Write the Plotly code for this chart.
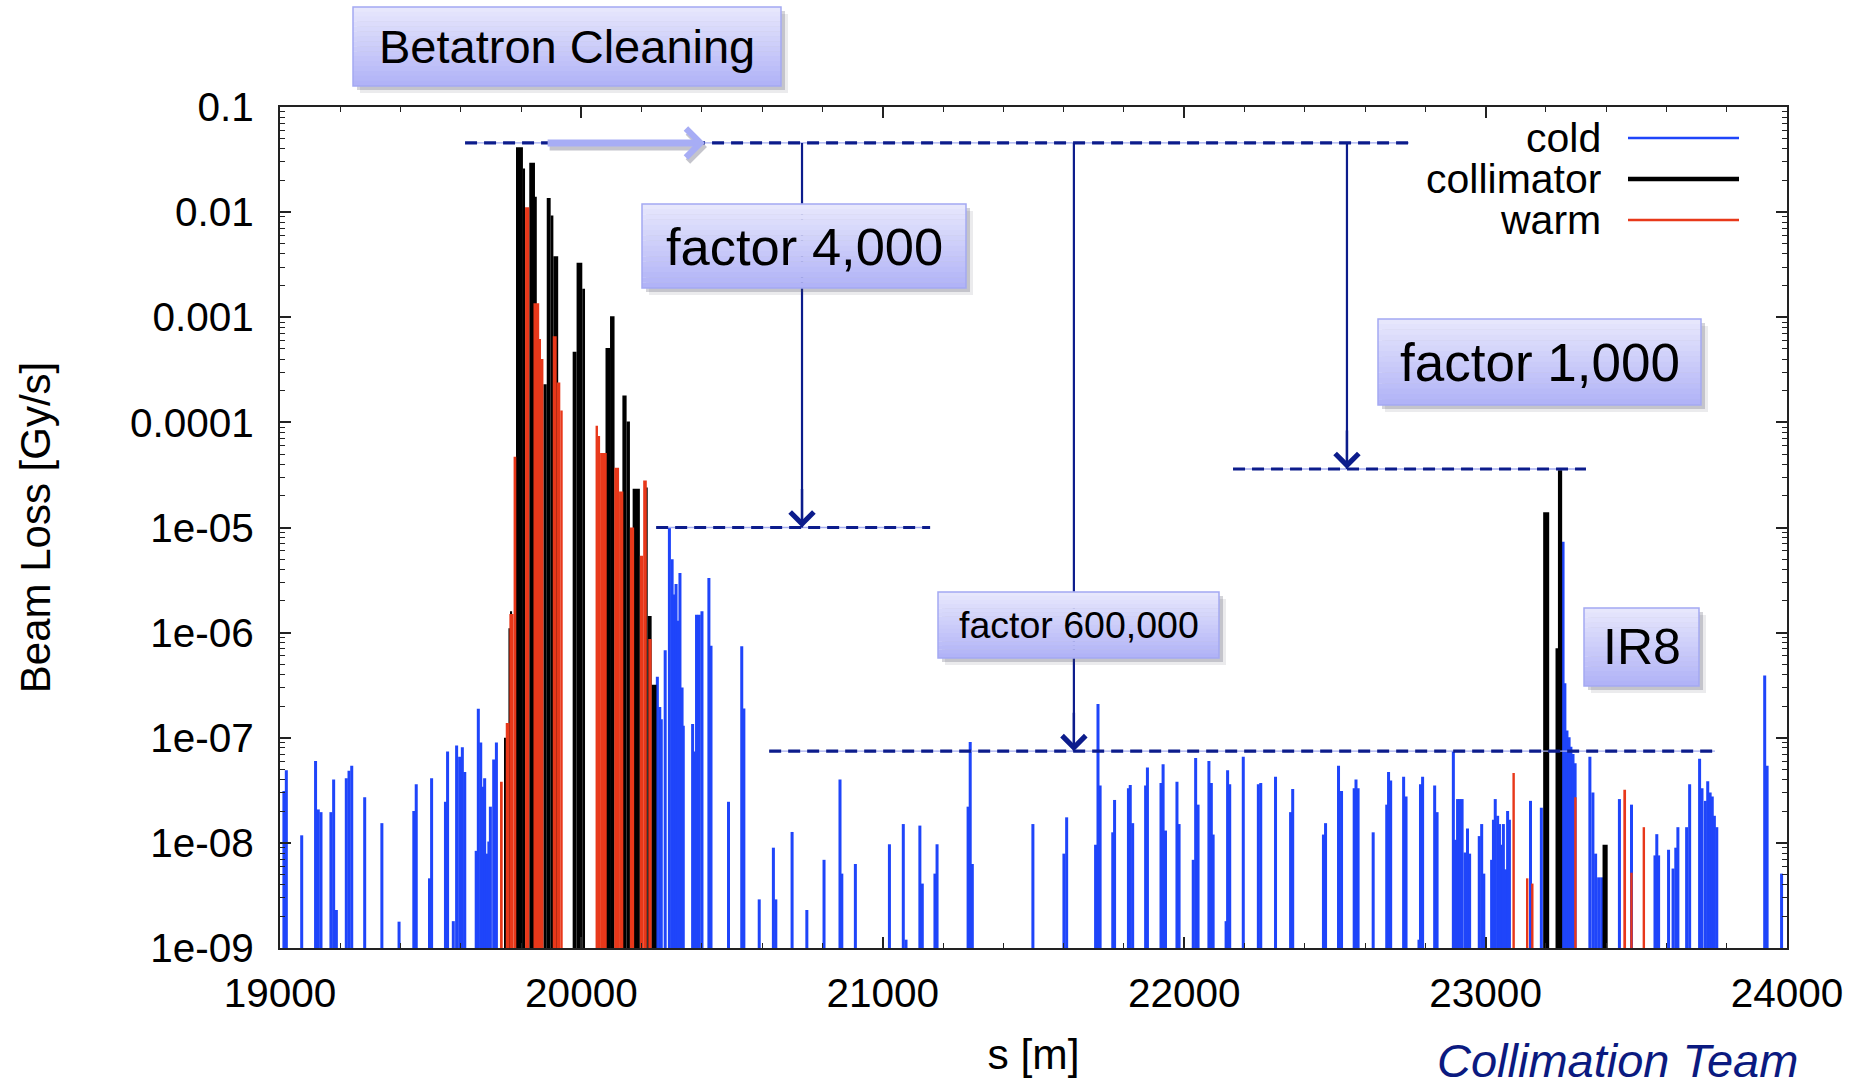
import numpy as np
import plotly.graph_objects as go

# ---------------- beam loss data (s in m, loss in Gy/s) ----------------
# cold elements: single readings
cold_s = [
    19013, 19021, 19072, 19118, 19127, 19136, 19169, 19178, 19187, 19220,
    19229, 19238, 19281, 19338, 19395, 19444, 19452, 19496, 19503, 19549,
    19556, 19575, 19586, 19596, 19605, 19613, 19651, 19658, 19666, 19672,
    19679, 19687, 19693, 19698, 19709, 19718,
    20252, 20260, 20265, 20278, 20292, 20301, 20308, 20314, 20321, 20327,
    20334, 20338, 20369, 20376, 20382, 20391, 20400, 20423, 20430, 20488,
    20532, 20539, 20590, 20637, 20645, 20699, 20748, 20805, 20858, 20864,
    20909, 21022, 21068, 21077, 21123, 21131, 21173, 21180, 21283, 21290,
    21297, 21498, 21601, 21610, 21706, 21714, 21721, 21763, 21769, 21815,
    21821, 21829, 21872, 21878, 21923, 21930, 21938, 21976, 21983, 22030,
    22038, 22046, 22082, 22090, 22096, 22139, 22144, 22151, 22196, 22246,
    22254, 22303, 22353, 22360, 22462, 22469, 22512, 22522, 22564, 22570,
    22577, 22627, 22672, 22678, 22685, 22728, 22736, 22779, 22784, 22791,
    22831, 22839, 22893, 22900, 22907, 22914, 22922, 22932, 22940, 22947,
    22979, 22987, 22994, 23020, 23026, 23032, 23040, 23046, 23053, 23059,
    23066, 23073, 23079, 23149, 23185, 23257, 23263, 23270, 23277, 23283,
    23290, 23297, 23346, 23356, 23365, 23375, 23385, 23444, 23484, 23562,
    23568, 23574, 23607, 23622, 23631, 23638, 23667, 23677, 23710, 23718,
    23729, 23737, 23745, 23752, 23759, 23767, 23926, 23934, 23982,
]
cold_loss = [
    3.1e-8, 4.9e-8, 1.17e-8, 6.0e-8, 2.07e-8, 1.95e-8, 1.95e-8, 4.0e-8, 2.2e-9, 4.1e-8,
    4.85e-8, 5.4e-8, 2.7e-8, 1.53e-8, 1.68e-9, 2.0e-8, 3.6e-8, 4.5e-9, 4.1e-8, 2.45e-8,
    7.4e-8, 1.7e-9, 8.45e-8, 6.6e-8, 8.1e-8, 4.7e-8, 8.3e-9, 1.89e-7, 9.0e-8, 3.4e-8,
    4.1e-8, 7.8e-9, 1.02e-8, 2.2e-8, 6.2e-8, 9.0e-8,
    3.8e-7, 1.96e-7, 1.5e-7, 6.8e-7, 1.0e-5, 5.0e-6, 2.3e-6, 2.9e-6, 1.3e-6, 3.7e-6,
    3.0e-7, 1.3e-7, 1.35e-7, 7.4e-8, 1.48e-6, 1.48e-6, 1.6e-6, 3.3e-6, 7.5e-7, 2.45e-8,
    7.4e-7, 1.9e-7, 2.8e-9, 8.9e-9, 2.8e-9, 1.26e-8, 2.2e-9, 6.8e-9, 4.0e-8, 5.0e-9,
    6.2e-9, 9.6e-9, 1.5e-8, 1.1e-9, 1.45e-8, 4.0e-9, 5.0e-9, 9.6e-9, 2.2e-8, 9.1e-8,
    6.2e-9, 1.5e-8, 7.8e-9, 1.74e-8, 9.5e-9, 2.09e-7, 3.5e-8, 1.25e-8, 2.55e-8, 3.3e-8,
    3.55e-8, 1.53e-8, 3.5e-8, 5.2e-8, 3.7e-8, 5.6e-8, 1.3e-8, 3.8e-8, 1.5e-8, 6.8e-9,
    6.4e-8, 2.3e-8, 6.0e-8, 3.7e-8, 1.19e-8, 1.7e-9, 4.9e-8, 3.6e-8, 6.6e-8, 3.6e-8,
    3.7e-8, 4.25e-8, 1.95e-8, 3.25e-8, 1.19e-8, 1.53e-8, 5.4e-8, 3.1e-8, 3.3e-8, 4.0e-8,
    3.3e-8, 1.25e-8, 2.3e-8, 4.7e-8, 3.9e-8, 4.25e-8, 2.75e-8, 1.1e-9, 3.6e-8, 4.25e-8,
    3.5e-8, 1.95e-8, 7.46e-8, 1.06e-8, 2.6e-8, 2.6e-8, 2.6e-8, 8.0e-9, 1.36e-8, 7.8e-9,
    1.15e-8, 1.5e-8, 5.0e-9, 6.8e-9, 1.65e-8, 2.6e-8, 1.8e-8, 1.5e-8, 9.5e-9, 1.5e-8,
    5.5e-9, 2.0e-8, 1.65e-8, 2.5e-8, 2.15e-8, 7.3e-6, 3.3e-7, 1.17e-7, 1.01e-7, 8.2e-8,
    7.0e-8, 5.7e-8, 6.6e-8, 3.0e-8, 7.8e-9, 4.6e-9, 4.6e-9, 2.6e-8, 2.3e-8, 7.5e-9,
    1.2e-8, 7.5e-9, 8.5e-9, 5.6e-9, 8.9e-9, 1.4e-8, 1.4e-8, 3.6e-8, 6.3e-8, 3.3e-8,
    2.5e-8, 3.85e-8, 3.0e-8, 2.75e-8, 1.8e-8, 1.4e-8, 3.9e-7, 5.4e-8, 5.0e-9,
]

# collimators: element start / end and loss
coll_from = [19744, 19758, 19765, 19783, 19806, 19827, 19846, 19874, 19885, 19898,
             19907, 19971, 19984, 20003, 20080, 20095, 20136, 20150, 20170, 20210,
             20220, 20233, 23191, 23232, 23240, 23388]
coll_to = [19748, 19765, 19770, 19806, 19813, 19846, 19852, 19885, 19898, 19907,
           19923, 19984, 20003, 20012, 20095, 20110, 20150, 20161, 20194, 20220,
           20233, 20249, 23211, 23243, 23254, 23405]
coll_loss = [1.0e-7, 1.1e-6, 1.6e-6, 0.0414, 0.026, 0.0295, 0.014, 2.3e-4, 0.0136, 9.3e-3,
             3.8e-3, 4.7e-4, 3.3e-3, 1.87e-3, 5.1e-4, 1.02e-3, 1.8e-4, 1.02e-4, 2.34e-5, 2.4e-5,
             1.44e-6, 3.2e-7, 1.4e-5, 7.1e-7, 3.5e-5, 9.5e-9]

# warm elements: element start / end and loss
warm_from = [19730, 19749, 19761, 19775, 19813, 19841, 19860, 19866, 19905, 19918,
             19930, 20047, 20055, 20062, 20109, 20125, 20161, 20194, 20205, 20222,
             23089, 23134, 23151, 23294, 23457, 23480, 23521]
warm_to = [19739, 19761, 19775, 19784, 19827, 19860, 19866, 19874, 19918, 19930,
           19938, 20055, 20062, 20084, 20125, 20139, 20175, 20205, 20217, 20233,
           23097, 23142, 23159, 23302, 23466, 23488, 23529]
warm_loss = [3.8e-8, 1.38e-7, 1.5e-6, 4.7e-5, 0.0111, 1.36e-3, 6.2e-4, 4.0e-4, 6.6e-4, 2.4e-4,
             1.3e-4, 9.3e-5, 7.4e-5, 5.1e-5, 3.7e-5, 2.2e-5, 1.0e-5, 5.4e-6, 2.8e-5, 8.7e-7,
             4.6e-8, 4.5e-9, 4.0e-9, 2.7e-8, 3.2e-8, 5.1e-9, 1.4e-8]

series_names = ["cold", "collimator", "warm"]

x_ticks = [19000, 20000, 21000, 22000, 23000, 24000]
y_ticks = [1e-9, 1e-8, 1e-7, 1e-6, 1e-5, 1e-4, 1e-3, 1e-2, 1e-1]
y_tick_text = ["1e-09", "1e-08", "1e-07", "1e-06", "1e-05", "0.0001", "0.001", "0.01", "0.1"]

# reference loss levels used for the cleaning-inefficiency arrows
peak_level = 0.0455
cold_level = 1.0e-5
arc_level = 7.45e-8
ir8_level = 3.6e-5

# ---------------- styling ----------------
FONT = "Liberation Sans, Arial, Helvetica, sans-serif"
BLUE = "#1f45fa"
RED = "#e8381a"
NAVY = "#0c1c8c"
FLOOR = 1e-10

W, H = 1868, 1086
PL, PR, PT, PB = 280, 1787, 107, 948


def px_x(px):
    return (px - PL) / (PR - PL)


def px_y(py):
    return (PB - py) / (PB - PT)


fig = go.Figure()

colors = [BLUE, "#000000", RED]

# cold: thin impulses
fig.add_trace(go.Bar(
    x=cold_s, y=cold_loss, base=FLOOR, width=10,
    marker=dict(color=BLUE, line=dict(width=0)),
    name=series_names[0], showlegend=False,
))

# collimator and warm: bars spanning each element
for name, s0, s1, loss, col in [
    (series_names[1], coll_from, coll_to, coll_loss, "#000000"),
    (series_names[2], warm_from, warm_to, warm_loss, RED),
]:
    s0a, s1a = np.array(s0, float), np.array(s1, float)
    fig.add_trace(go.Bar(
        x=(s0a + s1a) / 2, y=loss, base=FLOOR, width=s1a - s0a,
        marker=dict(color=col, line=dict(width=0)),
        name=name, showlegend=False,
    ))


def dashed(s0, s1, level):
    fig.add_trace(go.Scatter(x=[s0, s1], y=[level, level], mode="lines",
                             line=dict(color="#a6aef0", width=1.3),
                             hoverinfo="skip", showlegend=False))
    fig.add_trace(go.Scatter(x=[s0, s1], y=[level, level], mode="lines",
                             line=dict(color=NAVY, width=3.2, dash="12px,7px"),
                             hoverinfo="skip", showlegend=False))


dashed(19614, 22746, peak_level)
dashed(20248, 21157, cold_level)
dashed(20623, 23761, arc_level)
dashed(22162, 23333, ir8_level)

# vertical drops from the peak level to each reference level
drops = [(20732, cold_level), (21634, arc_level), (22540, ir8_level)]
for s, level in drops:
    fig.add_trace(go.Scatter(x=[s, s], y=[peak_level, level], mode="lines",
                             line=dict(color=NAVY, width=2.2),
                             hoverinfo="skip", showlegend=False))

shapes = []
annotations = []

# arrowheads at each reference level
for s, level in drops:
    annotations.append(dict(
        x=s, y=np.log10(level), xref="x", yref="y", ax=0, ay=-40,
        showarrow=True, arrowhead=4, arrowsize=1.9, arrowwidth=2.4,
        arrowcolor=NAVY, text="",
    ))

# beam direction arrow (with a soft shadow)
for shift, colr in [((2, -4), "rgba(90,90,110,0.35)"), ((0, 0), "#a7adf5")]:
    annotations.append(dict(
        x=20410, y=np.log10(peak_level), xref="x", yref="y",
        ax=19883, ay=np.log10(peak_level), axref="x", ayref="y",
        xshift=shift[0], yshift=shift[1],
        showarrow=True, arrowhead=4, arrowsize=0.8, arrowwidth=7,
        arrowcolor=colr, text="",
    ))

# label boxes with gradient fill and drop shadow
boxes = [
    ("Betatron Cleaning", 353, 781, 7, 86, 47),
    ("factor 4,000", 642, 966, 204, 288, 52.5),
    ("factor 1,000", 1378, 1701, 319, 405, 53),
    ("factor 600,000", 938, 1219, 592, 658, 37.5),
    ("IR8", 1584, 1699, 608, 686, 50),
]
top_rgb = np.array([233, 233, 253])
bot_rgb = np.array([176, 178, 247])
NB = 16
for text, x0, x1, y0, y1, fs in boxes:
    for off, alpha in [(7, 0.10), (4, 0.22)]:
        shapes.append(dict(type="rect", xref="paper", yref="paper", layer="above",
                           x0=px_x(x0 + off), x1=px_x(x1 + off),
                           y0=px_y(y0 + off), y1=px_y(y1 + off),
                           fillcolor=f"rgba(60,60,80,{alpha})", line=dict(width=0)))
    for i in range(NB):
        t = (i + 0.5) / NB
        c = (top_rgb * (1 - t) + bot_rgb * t).astype(int)
        ya = y0 + (y1 - y0) * i / NB
        yb = y0 + (y1 - y0) * (i + 1) / NB
        shapes.append(dict(type="rect", xref="paper", yref="paper", layer="above",
                           x0=px_x(x0), x1=px_x(x1), y0=px_y(yb), y1=px_y(ya - 0.3),
                           fillcolor=f"rgb({c[0]},{c[1]},{c[2]})", line=dict(width=0)))
    shapes.append(dict(type="rect", xref="paper", yref="paper", layer="above",
                       x0=px_x(x0), x1=px_x(x1), y0=px_y(y1), y1=px_y(y0),
                       fillcolor="rgba(0,0,0,0)", line=dict(color="#a4a9f2", width=1.5)))
    annotations.append(dict(
        text=text, xref="paper", yref="paper",
        x=px_x((x0 + x1) / 2), y=px_y((y0 + y1) / 2),
        xanchor="center", yanchor="middle", showarrow=False,
        font=dict(family=FONT, size=fs, color="black"),
    ))

# key: label on the left, line sample on the right
key_rows = [138, 179, 220]
key_widths = [2.6, 4.5, 2.6]
for name, col, row, lw in zip(series_names, colors, key_rows, key_widths):
    annotations.append(dict(
        text=name, xref="paper", yref="paper", x=px_x(1603), y=px_y(row),
        xanchor="right", yanchor="middle", showarrow=False, height=38,
        font=dict(family=FONT, size=41, color="black"),
    ))
    shapes.append(dict(type="line", xref="paper", yref="paper", layer="above",
                       x0=px_x(1628), x1=px_x(1739), y0=px_y(row), y1=px_y(row),
                       line=dict(color=col, width=lw)))

annotations.append(dict(
    text="<i>Collimation Team</i>", xref="paper", yref="paper",
    x=px_x(1800), y=px_y(1060), xanchor="right", yanchor="middle",
    showarrow=False, font=dict(family=FONT, size=47, color="#0b1a80"),
))

minor_y = [m * 10.0 ** e for e in range(-9, -1) for m in range(2, 10)]

AX = "#222222"
TICKFONT = dict(family=FONT, size=40.5, color="black")
fig.update_xaxes(
    range=[19000, 24000], tickvals=x_ticks, ticktext=[str(v) for v in x_ticks],
    ticks="inside", ticklen=11, tickwidth=1.5, tickcolor=AX,
    minor=dict(ticks="inside", ticklen=5, tickwidth=1.2, tickcolor=AX,
               tickmode="linear", tick0=19000, dtick=200, showgrid=False),
    showline=True, linecolor=AX, linewidth=2, mirror="allticks",
    showgrid=False, zeroline=False, ticklabelstandoff=8,
    tickfont=TICKFONT,
    title=dict(text="s [m]", font=dict(family=FONT, size=42.5, color="black"), standoff=25),
)
fig.update_yaxes(
    type="log", range=[-9, -1], tickvals=y_ticks, ticktext=y_tick_text,
    ticks="inside", ticklen=11, tickwidth=1.5, tickcolor=AX,
    minor=dict(ticks="inside", ticklen=5, tickwidth=1.2, tickcolor=AX,
               tickvals=minor_y, showgrid=False),
    showline=True, linecolor=AX, linewidth=2, mirror="allticks",
    showgrid=False, zeroline=False, ticklabelstandoff=16,
    tickfont=TICKFONT,
    title=dict(text="Beam Loss [Gy/s]", font=dict(family=FONT, size=42, color="black"), standoff=66),
)

fig.update_layout(
    width=W, height=H,
    margin=dict(l=PL, r=W - PR, t=PT, b=H - PB, autoexpand=False),
    paper_bgcolor="white", plot_bgcolor="white",
    barmode="overlay", showlegend=False,
    shapes=shapes, annotations=annotations,
)

fig.write_html("out.html")
